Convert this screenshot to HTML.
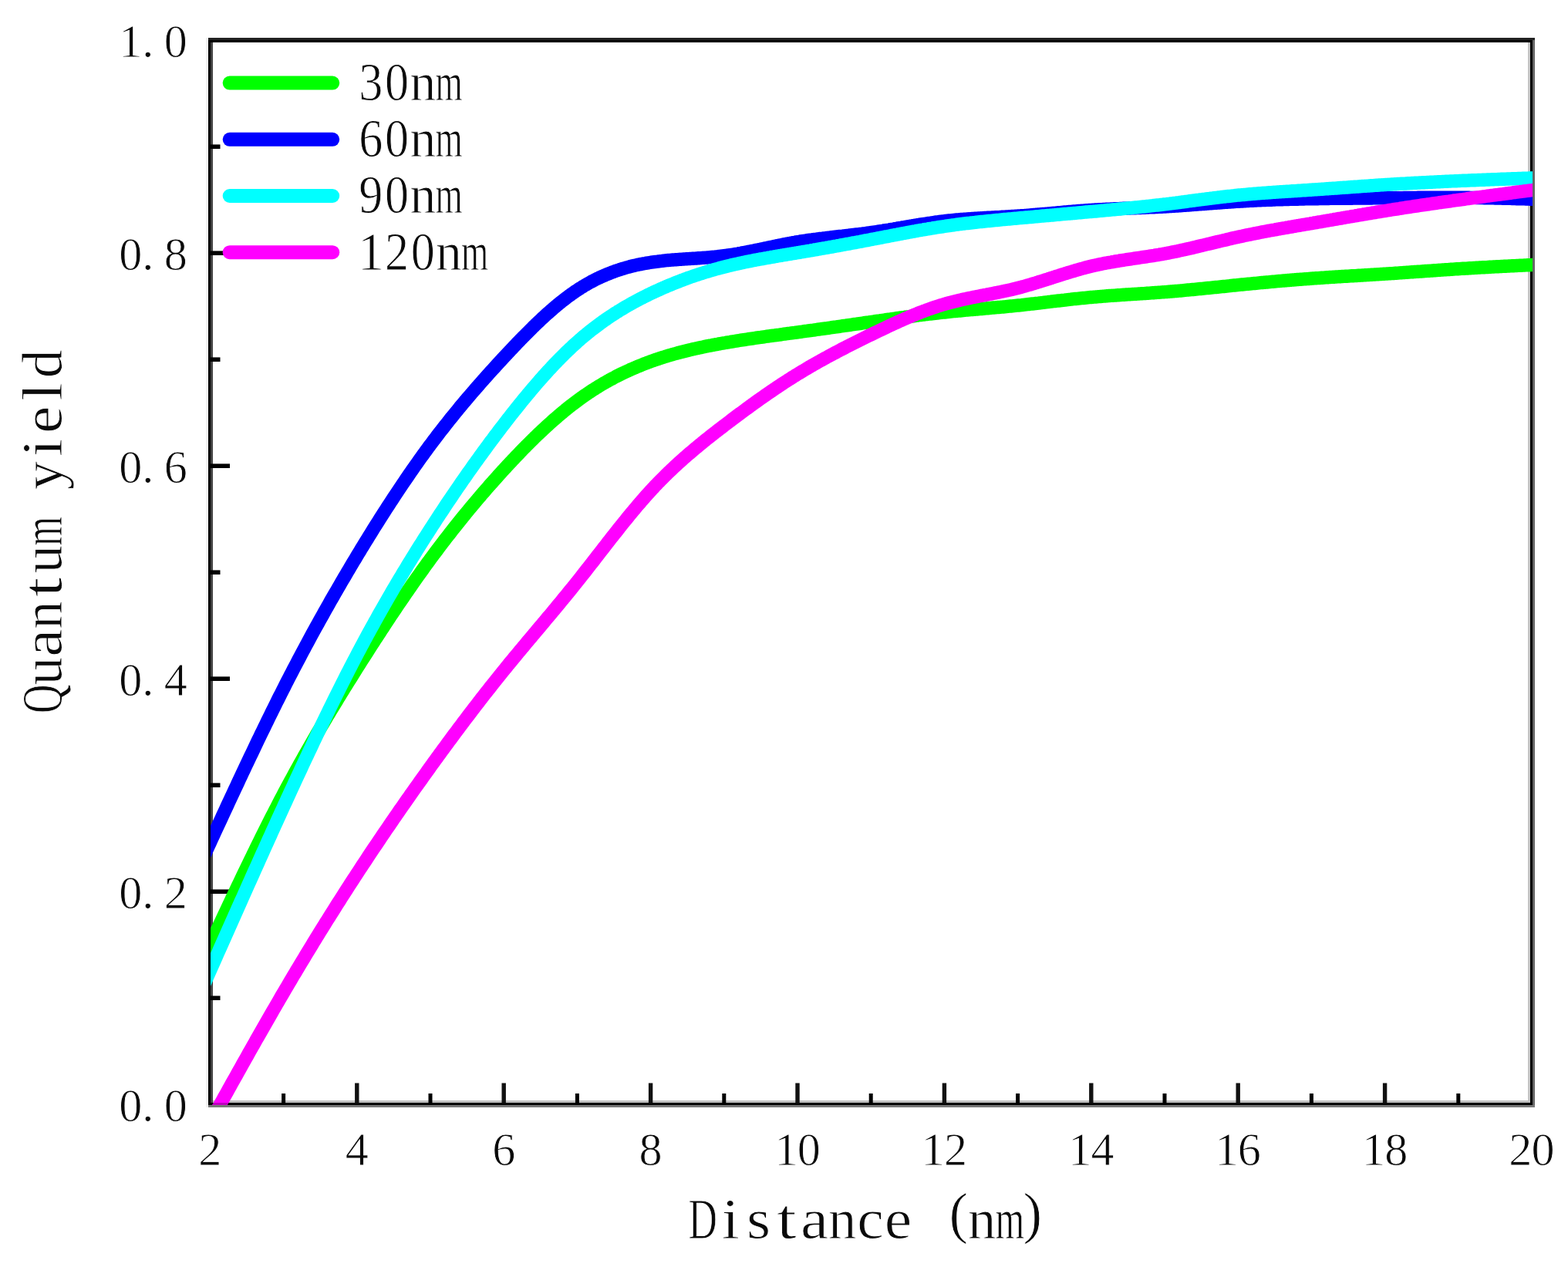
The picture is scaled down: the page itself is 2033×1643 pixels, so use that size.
<!DOCTYPE html>
<html lang="en"><head><meta charset="utf-8"><title>Quantum yield vs Distance</title>
<style>
html,body{margin:0;padding:0;background:#fff;}
body{width:2033px;height:1643px;overflow:hidden;}
svg{display:block;}
text{font-family:"Liberation Serif",serif;fill:#0a0a0a;text-anchor:middle;stroke:#fff;stroke-width:0.9px;}
.soft{filter:blur(0.7px);}
.softc{filter:blur(0.6px);}
.tk{font-size:62px;}
.lg{font-size:69px;}
.ti{font-size:74px;}
</style></head><body>
<svg width="2033" height="1643" viewBox="0 0 2033 1643">
<rect x="0" y="0" width="2033" height="1643" fill="#fff"/>
<defs><clipPath id="plot"><rect x="273" y="49" width="1714" height="1384"/></clipPath></defs>
<g shape-rendering="crispEdges">
<rect x="267" y="49" width="3" height="1387" fill="#f1f1f1"/>
<rect x="270" y="49" width="3" height="1387" fill="#000"/>
<rect x="273" y="52" width="3" height="1381" fill="#444"/>
<rect x="1981" y="55" width="3" height="1375" fill="#c4c4c4"/>
<rect x="1984" y="49" width="3" height="1384" fill="#000"/>
<rect x="1987" y="49" width="3" height="1387" fill="#666"/>
<rect x="270" y="49" width="1720" height="3" fill="#222"/>
<rect x="270" y="52" width="1717" height="3" fill="#000"/>
<rect x="276" y="1427" width="1708" height="3" fill="#c0c0c0"/>
<rect x="270" y="1430" width="1717" height="3" fill="#000"/>
<rect x="270" y="1433" width="1720" height="3" fill="#777"/>
</g>
<g fill="#000">
<rect x="365.1" y="1418" width="5" height="14"/>
<rect x="460.1" y="1404.5" width="5.4" height="27" fill="#111"/>
<rect x="555.5" y="1418" width="5" height="14"/>
<rect x="650.5" y="1404.5" width="5.4" height="27" fill="#111"/>
<rect x="745.9" y="1418" width="5" height="14"/>
<rect x="840.9" y="1404.5" width="5.4" height="27" fill="#111"/>
<rect x="936.3" y="1418" width="5" height="14"/>
<rect x="1031.3" y="1404.5" width="5.4" height="27" fill="#111"/>
<rect x="1126.7" y="1418" width="5" height="14"/>
<rect x="1221.7" y="1404.5" width="5.4" height="27" fill="#111"/>
<rect x="1317.1" y="1418" width="5" height="14"/>
<rect x="1412.1" y="1404.5" width="5.4" height="27" fill="#111"/>
<rect x="1507.5" y="1418" width="5" height="14"/>
<rect x="1602.5" y="1404.5" width="5.4" height="27" fill="#111"/>
<rect x="1697.9" y="1418" width="5" height="14"/>
<rect x="1792.9" y="1404.5" width="5.4" height="27" fill="#111"/>
<rect x="1888.3" y="1418" width="5" height="14"/>
<rect x="272" y="1291.4" width="13.5" height="5.6"/>
<rect x="272" y="1153.4" width="26" height="5.6"/>
<rect x="272" y="1015.4" width="13.5" height="5.6"/>
<rect x="272" y="877.4" width="26" height="5.6"/>
<rect x="272" y="739.4" width="13.5" height="5.6"/>
<rect x="272" y="601.4" width="26" height="5.6"/>
<rect x="272" y="463.4" width="13.5" height="5.6"/>
<rect x="272" y="325.4" width="26" height="5.6"/>
<rect x="272" y="187.4" width="13.5" height="5.6"/>
</g>
<g clip-path="url(#plot)"><g class="softc" fill="none" stroke-linejoin="round" stroke-linecap="butt">
<path d="M260.5 1250.6 L262.5 1246.3 L264.5 1242.1 L266.5 1237.8 L268.5 1233.5 L270.5 1229.3 L272.5 1225.0 L274.5 1220.7 L276.5 1216.5 L278.5 1212.2 L280.5 1207.9 L282.5 1203.7 L284.5 1199.4 L286.5 1195.2 L288.5 1190.9 L290.5 1186.6 L292.5 1182.4 L294.5 1178.2 L296.5 1173.9 L298.5 1169.7 L300.5 1165.4 L302.5 1161.2 L304.5 1157.0 L306.5 1152.8 L308.5 1148.6 L310.5 1144.4 L312.5 1140.2 L314.5 1136.0 L316.5 1131.9 L318.5 1127.7 L320.5 1123.6 L322.5 1119.4 L324.5 1115.3 L326.5 1111.2 L328.5 1107.1 L330.5 1103.0 L332.5 1098.9 L334.5 1094.8 L336.5 1090.7 L338.5 1086.7 L340.5 1082.7 L342.5 1078.7 L344.5 1074.7 L346.5 1070.7 L348.5 1066.7 L350.5 1062.7 L352.5 1058.8 L354.5 1054.9 L356.5 1051.0 L358.5 1047.1 L360.5 1043.2 L362.5 1039.4 L364.5 1035.5 L366.5 1031.7 L368.5 1027.9 L370.5 1024.2 L372.5 1020.4 L374.5 1016.7 L376.5 1013.0 L378.5 1009.3 L380.5 1005.6 L382.5 1001.9 L384.5 998.3 L386.5 994.7 L388.5 991.1 L390.5 987.5 L392.5 983.9 L394.5 980.3 L396.5 976.8 L398.5 973.3 L400.5 969.8 L402.5 966.3 L404.5 962.8 L406.5 959.3 L408.5 955.9 L410.5 952.4 L412.5 949.0 L414.5 945.6 L416.5 942.2 L418.5 938.8 L420.5 935.5 L422.5 932.1 L424.5 928.7 L426.5 925.4 L428.5 922.1 L430.5 918.8 L432.5 915.5 L434.5 912.2 L436.5 908.9 L438.5 905.6 L440.5 902.4 L442.5 899.1 L444.5 895.9 L446.5 892.6 L448.5 889.4 L450.5 886.2 L452.5 883.0 L454.5 879.8 L456.5 876.6 L458.5 873.4 L460.5 870.2 L462.5 867.0 L464.5 863.9 L466.5 860.7 L468.5 857.5 L470.5 854.4 L472.5 851.3 L474.5 848.1 L476.5 845.0 L478.5 841.9 L480.5 838.7 L482.5 835.6 L484.5 832.5 L486.5 829.4 L488.5 826.4 L490.5 823.3 L492.5 820.2 L494.5 817.1 L496.5 814.1 L498.5 811.0 L500.5 808.0 L502.5 805.0 L504.5 802.0 L506.5 798.9 L508.5 795.9 L510.5 792.9 L512.5 790.0 L514.5 787.0 L516.5 784.0 L518.5 781.1 L520.5 778.1 L522.5 775.2 L524.5 772.3 L526.5 769.4 L528.5 766.5 L530.5 763.6 L532.5 760.7 L534.5 757.8 L536.5 755.0 L538.5 752.1 L540.5 749.3 L542.5 746.5 L544.5 743.7 L546.5 740.9 L548.5 738.1 L550.5 735.3 L552.5 732.5 L554.5 729.8 L556.5 727.1 L558.5 724.3 L560.5 721.6 L562.5 718.9 L564.5 716.2 L566.5 713.6 L568.5 710.9 L570.5 708.3 L572.5 705.6 L574.5 703.0 L576.5 700.4 L578.5 697.8 L580.5 695.2 L582.5 692.7 L584.5 690.1 L586.5 687.5 L588.5 685.0 L590.5 682.5 L592.5 680.0 L594.5 677.5 L596.5 675.0 L598.5 672.5 L600.5 670.0 L602.5 667.6 L604.5 665.1 L606.5 662.7 L608.5 660.3 L610.5 657.9 L612.5 655.5 L614.5 653.1 L616.5 650.7 L618.5 648.4 L620.5 646.0 L622.5 643.7 L624.5 641.3 L626.5 639.0 L628.5 636.7 L630.5 634.4 L632.5 632.1 L634.5 629.8 L636.5 627.5 L638.5 625.3 L640.5 623.0 L642.5 620.8 L644.5 618.6 L646.5 616.3 L648.5 614.1 L650.5 611.9 L652.5 609.7 L654.5 607.6 L656.5 605.4 L658.5 603.2 L660.5 601.1 L662.5 598.9 L664.5 596.8 L666.5 594.7 L668.5 592.6 L670.5 590.5 L672.5 588.4 L674.5 586.3 L676.5 584.2 L678.5 582.2 L680.5 580.2 L682.5 578.1 L684.5 576.1 L686.5 574.1 L688.5 572.1 L690.5 570.1 L692.5 568.2 L694.5 566.2 L696.5 564.3 L698.5 562.4 L700.5 560.5 L702.5 558.6 L704.5 556.7 L706.5 554.9 L708.5 553.0 L710.5 551.2 L712.5 549.4 L714.5 547.6 L716.5 545.8 L718.5 544.0 L720.5 542.3 L722.5 540.6 L724.5 538.8 L726.5 537.1 L728.5 535.5 L730.5 533.8 L732.5 532.2 L734.5 530.5 L736.5 528.9 L738.5 527.3 L740.5 525.8 L742.5 524.2 L744.5 522.7 L746.5 521.2 L748.5 519.7 L750.5 518.2 L752.5 516.8 L754.5 515.3 L756.5 513.9 L758.5 512.5 L760.5 511.2 L762.5 509.8 L764.5 508.5 L766.5 507.1 L768.5 505.8 L770.5 504.6 L772.5 503.3 L774.5 502.1 L776.5 500.8 L778.5 499.6 L780.5 498.4 L782.5 497.2 L784.5 496.1 L786.5 495.0 L788.5 493.8 L790.5 492.7 L792.5 491.6 L794.5 490.6 L796.5 489.5 L798.5 488.4 L800.5 487.4 L802.5 486.4 L804.5 485.4 L806.5 484.4 L808.5 483.5 L810.5 482.5 L812.5 481.6 L814.5 480.7 L816.5 479.7 L818.5 478.8 L820.5 478.0 L822.5 477.1 L824.5 476.3 L826.5 475.4 L828.5 474.6 L830.5 473.8 L832.5 473.0 L834.5 472.2 L836.5 471.4 L838.5 470.7 L840.5 469.9 L842.5 469.2 L844.5 468.4 L846.5 467.7 L848.5 467.0 L850.5 466.3 L852.5 465.7 L854.5 465.0 L856.5 464.3 L858.5 463.7 L860.5 463.1 L862.5 462.4 L864.5 461.8 L866.5 461.2 L868.5 460.6 L870.5 460.0 L872.5 459.5 L874.5 458.9 L876.5 458.4 L878.5 457.8 L880.5 457.3 L882.5 456.7 L884.5 456.2 L886.5 455.7 L888.5 455.2 L890.5 454.7 L892.5 454.2 L894.5 453.7 L896.5 453.3 L898.5 452.8 L900.5 452.4 L902.5 451.9 L904.5 451.5 L906.5 451.0 L908.5 450.6 L910.5 450.2 L912.5 449.8 L914.5 449.3 L916.5 448.9 L918.5 448.5 L920.5 448.1 L922.5 447.8 L924.5 447.4 L926.5 447.0 L928.5 446.6 L930.5 446.3 L932.5 445.9 L934.5 445.5 L936.5 445.2 L938.5 444.8 L940.5 444.5 L942.5 444.1 L944.5 443.8 L946.5 443.5 L948.5 443.1 L950.5 442.8 L952.5 442.5 L954.5 442.2 L956.5 441.8 L958.5 441.5 L960.5 441.2 L962.5 440.9 L964.5 440.6 L966.5 440.3 L968.5 440.0 L970.5 439.7 L972.5 439.4 L974.5 439.1 L976.5 438.8 L978.5 438.5 L980.5 438.2 L982.5 437.9 L984.5 437.6 L986.5 437.4 L988.5 437.1 L990.5 436.8 L992.5 436.5 L994.5 436.2 L996.5 436.0 L998.5 435.7 L1000.5 435.4 L1002.5 435.1 L1004.5 434.9 L1006.5 434.6 L1008.5 434.3 L1010.5 434.1 L1012.5 433.8 L1014.5 433.5 L1016.5 433.2 L1018.5 433.0 L1020.5 432.7 L1022.5 432.4 L1024.5 432.2 L1026.5 431.9 L1028.5 431.6 L1030.5 431.4 L1032.5 431.1 L1034.5 430.8 L1036.5 430.5 L1038.5 430.3 L1040.5 430.0 L1042.5 429.7 L1044.5 429.4 L1046.5 429.2 L1048.5 428.9 L1050.5 428.6 L1052.5 428.3 L1054.5 428.1 L1056.5 427.8 L1058.5 427.5 L1060.5 427.2 L1062.5 427.0 L1064.5 426.7 L1066.5 426.4 L1068.5 426.1 L1070.5 425.8 L1072.5 425.6 L1074.5 425.3 L1076.5 425.0 L1078.5 424.7 L1080.5 424.4 L1082.5 424.1 L1084.5 423.9 L1086.5 423.6 L1088.5 423.3 L1090.5 423.0 L1092.5 422.7 L1094.5 422.4 L1096.5 422.2 L1098.5 421.9 L1100.5 421.6 L1102.5 421.3 L1104.5 421.0 L1106.5 420.7 L1108.5 420.4 L1110.5 420.2 L1112.5 419.9 L1114.5 419.6 L1116.5 419.3 L1118.5 419.0 L1120.5 418.7 L1122.5 418.4 L1124.5 418.1 L1126.5 417.9 L1128.5 417.6 L1130.5 417.3 L1132.5 417.0 L1134.5 416.7 L1136.5 416.4 L1138.5 416.1 L1140.5 415.9 L1142.5 415.6 L1144.5 415.3 L1146.5 415.0 L1148.5 414.7 L1150.5 414.4 L1152.5 414.1 L1154.5 413.9 L1156.5 413.6 L1158.5 413.3 L1160.5 413.0 L1162.5 412.7 L1164.5 412.5 L1166.5 412.2 L1168.5 411.9 L1170.5 411.6 L1172.5 411.4 L1174.5 411.1 L1176.5 410.8 L1178.5 410.6 L1180.5 410.3 L1182.5 410.0 L1184.5 409.8 L1186.5 409.5 L1188.5 409.2 L1190.5 409.0 L1192.5 408.7 L1194.5 408.5 L1196.5 408.2 L1198.5 408.0 L1200.5 407.7 L1202.5 407.5 L1204.5 407.2 L1206.5 407.0 L1208.5 406.8 L1210.5 406.5 L1212.5 406.3 L1214.5 406.1 L1216.5 405.8 L1218.5 405.6 L1220.5 405.4 L1222.5 405.2 L1224.5 405.0 L1226.5 404.8 L1228.5 404.5 L1230.5 404.3 L1232.5 404.1 L1234.5 403.9 L1236.5 403.7 L1238.5 403.5 L1240.5 403.4 L1242.5 403.2 L1244.5 403.0 L1246.5 402.8 L1248.5 402.6 L1250.5 402.4 L1252.5 402.2 L1254.5 402.0 L1256.5 401.9 L1258.5 401.7 L1260.5 401.5 L1262.5 401.3 L1264.5 401.2 L1266.5 401.0 L1268.5 400.8 L1270.5 400.6 L1272.5 400.5 L1274.5 400.3 L1276.5 400.1 L1278.5 399.9 L1280.5 399.8 L1282.5 399.6 L1284.5 399.4 L1286.5 399.2 L1288.5 399.0 L1290.5 398.9 L1292.5 398.7 L1294.5 398.5 L1296.5 398.3 L1298.5 398.1 L1300.5 398.0 L1302.5 397.8 L1304.5 397.6 L1306.5 397.4 L1308.5 397.2 L1310.5 397.0 L1312.5 396.8 L1314.5 396.6 L1316.5 396.4 L1318.5 396.2 L1320.5 396.0 L1322.5 395.8 L1324.5 395.6 L1326.5 395.3 L1328.5 395.1 L1330.5 394.9 L1332.5 394.7 L1334.5 394.5 L1336.5 394.2 L1338.5 394.0 L1340.5 393.8 L1342.5 393.5 L1344.5 393.3 L1346.5 393.1 L1348.5 392.8 L1350.5 392.6 L1352.5 392.4 L1354.5 392.1 L1356.5 391.9 L1358.5 391.7 L1360.5 391.4 L1362.5 391.2 L1364.5 390.9 L1366.5 390.7 L1368.5 390.5 L1370.5 390.2 L1372.5 390.0 L1374.5 389.8 L1376.5 389.5 L1378.5 389.3 L1380.5 389.1 L1382.5 388.8 L1384.5 388.6 L1386.5 388.4 L1388.5 388.2 L1390.5 387.9 L1392.5 387.7 L1394.5 387.5 L1396.5 387.3 L1398.5 387.1 L1400.5 386.9 L1402.5 386.7 L1404.5 386.5 L1406.5 386.3 L1408.5 386.1 L1410.5 385.9 L1412.5 385.7 L1414.5 385.5 L1416.5 385.3 L1418.5 385.1 L1420.5 385.0 L1422.5 384.8 L1424.5 384.6 L1426.5 384.5 L1428.5 384.3 L1430.5 384.1 L1432.5 384.0 L1434.5 383.8 L1436.5 383.7 L1438.5 383.5 L1440.5 383.4 L1442.5 383.3 L1444.5 383.1 L1446.5 383.0 L1448.5 382.8 L1450.5 382.7 L1452.5 382.6 L1454.5 382.4 L1456.5 382.3 L1458.5 382.2 L1460.5 382.0 L1462.5 381.9 L1464.5 381.8 L1466.5 381.6 L1468.5 381.5 L1470.5 381.4 L1472.5 381.3 L1474.5 381.1 L1476.5 381.0 L1478.5 380.9 L1480.5 380.7 L1482.5 380.6 L1484.5 380.5 L1486.5 380.3 L1488.5 380.2 L1490.5 380.1 L1492.5 379.9 L1494.5 379.8 L1496.5 379.7 L1498.5 379.5 L1500.5 379.4 L1502.5 379.2 L1504.5 379.1 L1506.5 378.9 L1508.5 378.8 L1510.5 378.6 L1512.5 378.5 L1514.5 378.3 L1516.5 378.2 L1518.5 378.0 L1520.5 377.8 L1522.5 377.7 L1524.5 377.5 L1526.5 377.3 L1528.5 377.1 L1530.5 377.0 L1532.5 376.8 L1534.5 376.6 L1536.5 376.4 L1538.5 376.2 L1540.5 376.0 L1542.5 375.9 L1544.5 375.7 L1546.5 375.5 L1548.5 375.3 L1550.5 375.1 L1552.5 374.9 L1554.5 374.7 L1556.5 374.5 L1558.5 374.3 L1560.5 374.1 L1562.5 373.9 L1564.5 373.7 L1566.5 373.5 L1568.5 373.3 L1570.5 373.1 L1572.5 372.9 L1574.5 372.7 L1576.5 372.5 L1578.5 372.3 L1580.5 372.1 L1582.5 371.9 L1584.5 371.7 L1586.5 371.5 L1588.5 371.3 L1590.5 371.1 L1592.5 370.9 L1594.5 370.7 L1596.5 370.4 L1598.5 370.2 L1600.5 370.0 L1602.5 369.8 L1604.5 369.6 L1606.5 369.4 L1608.5 369.2 L1610.5 369.0 L1612.5 368.8 L1614.5 368.6 L1616.5 368.4 L1618.5 368.2 L1620.5 368.1 L1622.5 367.9 L1624.5 367.7 L1626.5 367.5 L1628.5 367.3 L1630.5 367.1 L1632.5 366.9 L1634.5 366.7 L1636.5 366.5 L1638.5 366.3 L1640.5 366.2 L1642.5 366.0 L1644.5 365.8 L1646.5 365.6 L1648.5 365.4 L1650.5 365.2 L1652.5 365.1 L1654.5 364.9 L1656.5 364.7 L1658.5 364.5 L1660.5 364.4 L1662.5 364.2 L1664.5 364.0 L1666.5 363.8 L1668.5 363.7 L1670.5 363.5 L1672.5 363.3 L1674.5 363.2 L1676.5 363.0 L1678.5 362.8 L1680.5 362.7 L1682.5 362.5 L1684.5 362.4 L1686.5 362.2 L1688.5 362.1 L1690.5 361.9 L1692.5 361.8 L1694.5 361.6 L1696.5 361.5 L1698.5 361.3 L1700.5 361.2 L1702.5 361.0 L1704.5 360.9 L1706.5 360.7 L1708.5 360.6 L1710.5 360.5 L1712.5 360.3 L1714.5 360.2 L1716.5 360.1 L1718.5 359.9 L1720.5 359.8 L1722.5 359.7 L1724.5 359.5 L1726.5 359.4 L1728.5 359.3 L1730.5 359.2 L1732.5 359.0 L1734.5 358.9 L1736.5 358.8 L1738.5 358.7 L1740.5 358.5 L1742.5 358.4 L1744.5 358.3 L1746.5 358.2 L1748.5 358.1 L1750.5 357.9 L1752.5 357.8 L1754.5 357.7 L1756.5 357.6 L1758.5 357.5 L1760.5 357.3 L1762.5 357.2 L1764.5 357.1 L1766.5 357.0 L1768.5 356.9 L1770.5 356.7 L1772.5 356.6 L1774.5 356.5 L1776.5 356.4 L1778.5 356.2 L1780.5 356.1 L1782.5 356.0 L1784.5 355.9 L1786.5 355.8 L1788.5 355.6 L1790.5 355.5 L1792.5 355.4 L1794.5 355.2 L1796.5 355.1 L1798.5 355.0 L1800.5 354.9 L1802.5 354.7 L1804.5 354.6 L1806.5 354.5 L1808.5 354.3 L1810.5 354.2 L1812.5 354.1 L1814.5 353.9 L1816.5 353.8 L1818.5 353.6 L1820.5 353.5 L1822.5 353.4 L1824.5 353.2 L1826.5 353.1 L1828.5 352.9 L1830.5 352.8 L1832.5 352.7 L1834.5 352.5 L1836.5 352.4 L1838.5 352.2 L1840.5 352.1 L1842.5 352.0 L1844.5 351.8 L1846.5 351.7 L1848.5 351.5 L1850.5 351.4 L1852.5 351.3 L1854.5 351.1 L1856.5 351.0 L1858.5 350.8 L1860.5 350.7 L1862.5 350.6 L1864.5 350.4 L1866.5 350.3 L1868.5 350.1 L1870.5 350.0 L1872.5 349.9 L1874.5 349.7 L1876.5 349.6 L1878.5 349.5 L1880.5 349.3 L1882.5 349.2 L1884.5 349.1 L1886.5 348.9 L1888.5 348.8 L1890.5 348.7 L1892.5 348.6 L1894.5 348.4 L1896.5 348.3 L1898.5 348.2 L1900.5 348.1 L1902.5 348.0 L1904.5 347.8 L1906.5 347.7 L1908.5 347.6 L1910.5 347.5 L1912.5 347.4 L1914.5 347.2 L1916.5 347.1 L1918.5 347.0 L1920.5 346.9 L1922.5 346.8 L1924.5 346.7 L1926.5 346.6 L1928.5 346.5 L1930.5 346.3 L1932.5 346.2 L1934.5 346.1 L1936.5 346.0 L1938.5 345.9 L1940.5 345.8 L1942.5 345.7 L1944.5 345.6 L1946.5 345.5 L1948.5 345.4 L1950.5 345.3 L1952.5 345.2 L1954.5 345.1 L1956.5 345.0 L1958.5 344.9 L1960.5 344.8 L1962.5 344.7 L1964.5 344.6 L1966.5 344.5 L1968.5 344.4 L1970.5 344.3 L1972.5 344.2 L1974.5 344.1 L1976.5 344.0 L1978.5 343.9 L1980.5 343.8 L1982.5 343.7 L1984.5 343.6 L1986.5 343.5 L1988.5 343.4 L1990.5 343.3 L1992.5 343.2 L1994.5 343.1 L1996.5 343.0" stroke="#00ff00" stroke-width="17.4"/>
<path d="M260.5 1118.4 L262.5 1114.1 L264.5 1109.8 L266.5 1105.5 L268.5 1101.1 L270.5 1096.8 L272.5 1092.5 L274.5 1088.2 L276.5 1083.9 L278.5 1079.5 L280.5 1075.2 L282.5 1070.9 L284.5 1066.6 L286.5 1062.3 L288.5 1057.9 L290.5 1053.6 L292.5 1049.3 L294.5 1045.0 L296.5 1040.7 L298.5 1036.4 L300.5 1032.1 L302.5 1027.8 L304.5 1023.6 L306.5 1019.3 L308.5 1015.0 L310.5 1010.7 L312.5 1006.5 L314.5 1002.2 L316.5 998.0 L318.5 993.7 L320.5 989.5 L322.5 985.3 L324.5 981.1 L326.5 976.9 L328.5 972.7 L330.5 968.5 L332.5 964.3 L334.5 960.1 L336.5 956.0 L338.5 951.8 L340.5 947.7 L342.5 943.6 L344.5 939.5 L346.5 935.4 L348.5 931.3 L350.5 927.2 L352.5 923.1 L354.5 919.1 L356.5 915.1 L358.5 911.0 L360.5 907.0 L362.5 903.0 L364.5 899.1 L366.5 895.1 L368.5 891.2 L370.5 887.2 L372.5 883.3 L374.5 879.4 L376.5 875.5 L378.5 871.7 L380.5 867.8 L382.5 864.0 L384.5 860.2 L386.5 856.4 L388.5 852.6 L390.5 848.8 L392.5 845.0 L394.5 841.3 L396.5 837.5 L398.5 833.8 L400.5 830.1 L402.5 826.4 L404.5 822.7 L406.5 819.1 L408.5 815.4 L410.5 811.8 L412.5 808.2 L414.5 804.6 L416.5 801.0 L418.5 797.4 L420.5 793.8 L422.5 790.3 L424.5 786.7 L426.5 783.2 L428.5 779.6 L430.5 776.1 L432.5 772.6 L434.5 769.2 L436.5 765.7 L438.5 762.2 L440.5 758.8 L442.5 755.3 L444.5 751.9 L446.5 748.5 L448.5 745.1 L450.5 741.7 L452.5 738.3 L454.5 734.9 L456.5 731.6 L458.5 728.2 L460.5 724.9 L462.5 721.6 L464.5 718.2 L466.5 714.9 L468.5 711.6 L470.5 708.4 L472.5 705.1 L474.5 701.8 L476.5 698.6 L478.5 695.3 L480.5 692.1 L482.5 688.9 L484.5 685.6 L486.5 682.4 L488.5 679.3 L490.5 676.1 L492.5 672.9 L494.5 669.8 L496.5 666.6 L498.5 663.5 L500.5 660.4 L502.5 657.3 L504.5 654.2 L506.5 651.1 L508.5 648.1 L510.5 645.0 L512.5 642.0 L514.5 639.0 L516.5 636.0 L518.5 633.0 L520.5 630.0 L522.5 627.0 L524.5 624.1 L526.5 621.1 L528.5 618.2 L530.5 615.3 L532.5 612.4 L534.5 609.5 L536.5 606.6 L538.5 603.8 L540.5 601.0 L542.5 598.1 L544.5 595.3 L546.5 592.5 L548.5 589.8 L550.5 587.0 L552.5 584.3 L554.5 581.5 L556.5 578.8 L558.5 576.1 L560.5 573.5 L562.5 570.8 L564.5 568.2 L566.5 565.5 L568.5 562.9 L570.5 560.3 L572.5 557.7 L574.5 555.2 L576.5 552.6 L578.5 550.1 L580.5 547.6 L582.5 545.0 L584.5 542.5 L586.5 540.1 L588.5 537.6 L590.5 535.1 L592.5 532.7 L594.5 530.3 L596.5 527.8 L598.5 525.4 L600.5 523.0 L602.5 520.6 L604.5 518.3 L606.5 515.9 L608.5 513.6 L610.5 511.2 L612.5 508.9 L614.5 506.6 L616.5 504.3 L618.5 502.0 L620.5 499.7 L622.5 497.4 L624.5 495.1 L626.5 492.9 L628.5 490.6 L630.5 488.4 L632.5 486.2 L634.5 483.9 L636.5 481.7 L638.5 479.5 L640.5 477.3 L642.5 475.1 L644.5 472.9 L646.5 470.7 L648.5 468.6 L650.5 466.4 L652.5 464.2 L654.5 462.1 L656.5 459.9 L658.5 457.8 L660.5 455.7 L662.5 453.5 L664.5 451.4 L666.5 449.3 L668.5 447.2 L670.5 445.1 L672.5 443.0 L674.5 440.9 L676.5 438.9 L678.5 436.8 L680.5 434.8 L682.5 432.8 L684.5 430.8 L686.5 428.8 L688.5 426.8 L690.5 424.8 L692.5 422.9 L694.5 420.9 L696.5 419.0 L698.5 417.1 L700.5 415.2 L702.5 413.3 L704.5 411.5 L706.5 409.6 L708.5 407.8 L710.5 406.0 L712.5 404.3 L714.5 402.5 L716.5 400.8 L718.5 399.0 L720.5 397.4 L722.5 395.7 L724.5 394.0 L726.5 392.4 L728.5 390.8 L730.5 389.2 L732.5 387.7 L734.5 386.1 L736.5 384.6 L738.5 383.2 L740.5 381.7 L742.5 380.3 L744.5 378.9 L746.5 377.5 L748.5 376.2 L750.5 374.9 L752.5 373.6 L754.5 372.4 L756.5 371.1 L758.5 369.9 L760.5 368.8 L762.5 367.6 L764.5 366.5 L766.5 365.4 L768.5 364.4 L770.5 363.3 L772.5 362.3 L774.5 361.3 L776.5 360.4 L778.5 359.4 L780.5 358.5 L782.5 357.6 L784.5 356.8 L786.5 355.9 L788.5 355.1 L790.5 354.3 L792.5 353.5 L794.5 352.8 L796.5 352.0 L798.5 351.3 L800.5 350.6 L802.5 350.0 L804.5 349.3 L806.5 348.7 L808.5 348.1 L810.5 347.5 L812.5 346.9 L814.5 346.4 L816.5 345.8 L818.5 345.3 L820.5 344.8 L822.5 344.4 L824.5 343.9 L826.5 343.4 L828.5 343.0 L830.5 342.6 L832.5 342.2 L834.5 341.8 L836.5 341.5 L838.5 341.1 L840.5 340.8 L842.5 340.5 L844.5 340.2 L846.5 339.9 L848.5 339.6 L850.5 339.3 L852.5 339.1 L854.5 338.8 L856.5 338.6 L858.5 338.4 L860.5 338.1 L862.5 337.9 L864.5 337.7 L866.5 337.5 L868.5 337.4 L870.5 337.2 L872.5 337.0 L874.5 336.9 L876.5 336.7 L878.5 336.6 L880.5 336.4 L882.5 336.3 L884.5 336.1 L886.5 336.0 L888.5 335.9 L890.5 335.7 L892.5 335.6 L894.5 335.5 L896.5 335.4 L898.5 335.2 L900.5 335.1 L902.5 335.0 L904.5 334.8 L906.5 334.7 L908.5 334.6 L910.5 334.4 L912.5 334.3 L914.5 334.1 L916.5 334.0 L918.5 333.8 L920.5 333.6 L922.5 333.4 L924.5 333.3 L926.5 333.1 L928.5 332.9 L930.5 332.7 L932.5 332.4 L934.5 332.2 L936.5 332.0 L938.5 331.7 L940.5 331.5 L942.5 331.2 L944.5 330.9 L946.5 330.6 L948.5 330.3 L950.5 330.0 L952.5 329.7 L954.5 329.3 L956.5 329.0 L958.5 328.6 L960.5 328.3 L962.5 327.9 L964.5 327.5 L966.5 327.2 L968.5 326.8 L970.5 326.4 L972.5 326.0 L974.5 325.6 L976.5 325.2 L978.5 324.8 L980.5 324.4 L982.5 324.0 L984.5 323.6 L986.5 323.1 L988.5 322.7 L990.5 322.3 L992.5 321.9 L994.5 321.5 L996.5 321.0 L998.5 320.6 L1000.5 320.2 L1002.5 319.8 L1004.5 319.4 L1006.5 318.9 L1008.5 318.5 L1010.5 318.1 L1012.5 317.7 L1014.5 317.3 L1016.5 316.9 L1018.5 316.5 L1020.5 316.1 L1022.5 315.7 L1024.5 315.4 L1026.5 315.0 L1028.5 314.6 L1030.5 314.3 L1032.5 313.9 L1034.5 313.6 L1036.5 313.3 L1038.5 312.9 L1040.5 312.6 L1042.5 312.3 L1044.5 312.0 L1046.5 311.7 L1048.5 311.4 L1050.5 311.1 L1052.5 310.9 L1054.5 310.6 L1056.5 310.3 L1058.5 310.1 L1060.5 309.8 L1062.5 309.5 L1064.5 309.3 L1066.5 309.1 L1068.5 308.8 L1070.5 308.6 L1072.5 308.3 L1074.5 308.1 L1076.5 307.9 L1078.5 307.6 L1080.5 307.4 L1082.5 307.2 L1084.5 307.0 L1086.5 306.7 L1088.5 306.5 L1090.5 306.3 L1092.5 306.1 L1094.5 305.8 L1096.5 305.6 L1098.5 305.4 L1100.5 305.2 L1102.5 304.9 L1104.5 304.7 L1106.5 304.5 L1108.5 304.2 L1110.5 304.0 L1112.5 303.8 L1114.5 303.5 L1116.5 303.3 L1118.5 303.0 L1120.5 302.8 L1122.5 302.5 L1124.5 302.2 L1126.5 302.0 L1128.5 301.7 L1130.5 301.4 L1132.5 301.1 L1134.5 300.8 L1136.5 300.5 L1138.5 300.2 L1140.5 299.9 L1142.5 299.6 L1144.5 299.3 L1146.5 298.9 L1148.5 298.6 L1150.5 298.3 L1152.5 298.0 L1154.5 297.6 L1156.5 297.3 L1158.5 297.0 L1160.5 296.6 L1162.5 296.3 L1164.5 295.9 L1166.5 295.6 L1168.5 295.3 L1170.5 294.9 L1172.5 294.6 L1174.5 294.2 L1176.5 293.9 L1178.5 293.5 L1180.5 293.2 L1182.5 292.9 L1184.5 292.5 L1186.5 292.2 L1188.5 291.9 L1190.5 291.5 L1192.5 291.2 L1194.5 290.9 L1196.5 290.6 L1198.5 290.3 L1200.5 290.0 L1202.5 289.7 L1204.5 289.3 L1206.5 289.1 L1208.5 288.8 L1210.5 288.5 L1212.5 288.2 L1214.5 287.9 L1216.5 287.7 L1218.5 287.4 L1220.5 287.1 L1222.5 286.9 L1224.5 286.7 L1226.5 286.4 L1228.5 286.2 L1230.5 286.0 L1232.5 285.8 L1234.5 285.6 L1236.5 285.4 L1238.5 285.2 L1240.5 285.0 L1242.5 284.9 L1244.5 284.7 L1246.5 284.5 L1248.5 284.4 L1250.5 284.2 L1252.5 284.1 L1254.5 283.9 L1256.5 283.8 L1258.5 283.6 L1260.5 283.5 L1262.5 283.4 L1264.5 283.2 L1266.5 283.1 L1268.5 283.0 L1270.5 282.9 L1272.5 282.8 L1274.5 282.6 L1276.5 282.5 L1278.5 282.4 L1280.5 282.3 L1282.5 282.2 L1284.5 282.1 L1286.5 282.0 L1288.5 281.9 L1290.5 281.8 L1292.5 281.7 L1294.5 281.6 L1296.5 281.5 L1298.5 281.3 L1300.5 281.2 L1302.5 281.1 L1304.5 281.0 L1306.5 280.9 L1308.5 280.8 L1310.5 280.7 L1312.5 280.5 L1314.5 280.4 L1316.5 280.3 L1318.5 280.2 L1320.5 280.0 L1322.5 279.9 L1324.5 279.7 L1326.5 279.6 L1328.5 279.5 L1330.5 279.3 L1332.5 279.1 L1334.5 279.0 L1336.5 278.8 L1338.5 278.7 L1340.5 278.5 L1342.5 278.3 L1344.5 278.2 L1346.5 278.0 L1348.5 277.8 L1350.5 277.7 L1352.5 277.5 L1354.5 277.3 L1356.5 277.1 L1358.5 277.0 L1360.5 276.8 L1362.5 276.6 L1364.5 276.4 L1366.5 276.3 L1368.5 276.1 L1370.5 275.9 L1372.5 275.7 L1374.5 275.6 L1376.5 275.4 L1378.5 275.2 L1380.5 275.0 L1382.5 274.9 L1384.5 274.7 L1386.5 274.5 L1388.5 274.4 L1390.5 274.2 L1392.5 274.0 L1394.5 273.9 L1396.5 273.7 L1398.5 273.5 L1400.5 273.4 L1402.5 273.2 L1404.5 273.1 L1406.5 272.9 L1408.5 272.8 L1410.5 272.7 L1412.5 272.5 L1414.5 272.4 L1416.5 272.3 L1418.5 272.2 L1420.5 272.0 L1422.5 271.9 L1424.5 271.8 L1426.5 271.7 L1428.5 271.6 L1430.5 271.5 L1432.5 271.4 L1434.5 271.3 L1436.5 271.2 L1438.5 271.1 L1440.5 271.0 L1442.5 270.9 L1444.5 270.8 L1446.5 270.7 L1448.5 270.6 L1450.5 270.6 L1452.5 270.5 L1454.5 270.4 L1456.5 270.3 L1458.5 270.2 L1460.5 270.2 L1462.5 270.1 L1464.5 270.0 L1466.5 269.9 L1468.5 269.8 L1470.5 269.8 L1472.5 269.7 L1474.5 269.6 L1476.5 269.5 L1478.5 269.5 L1480.5 269.4 L1482.5 269.3 L1484.5 269.2 L1486.5 269.1 L1488.5 269.0 L1490.5 268.9 L1492.5 268.9 L1494.5 268.8 L1496.5 268.7 L1498.5 268.6 L1500.5 268.5 L1502.5 268.4 L1504.5 268.3 L1506.5 268.2 L1508.5 268.1 L1510.5 268.0 L1512.5 267.8 L1514.5 267.7 L1516.5 267.6 L1518.5 267.5 L1520.5 267.4 L1522.5 267.2 L1524.5 267.1 L1526.5 267.0 L1528.5 266.8 L1530.5 266.7 L1532.5 266.6 L1534.5 266.4 L1536.5 266.3 L1538.5 266.1 L1540.5 266.0 L1542.5 265.8 L1544.5 265.7 L1546.5 265.5 L1548.5 265.4 L1550.5 265.2 L1552.5 265.1 L1554.5 264.9 L1556.5 264.8 L1558.5 264.6 L1560.5 264.5 L1562.5 264.3 L1564.5 264.2 L1566.5 264.0 L1568.5 263.9 L1570.5 263.7 L1572.5 263.6 L1574.5 263.4 L1576.5 263.3 L1578.5 263.1 L1580.5 263.0 L1582.5 262.8 L1584.5 262.7 L1586.5 262.5 L1588.5 262.4 L1590.5 262.3 L1592.5 262.1 L1594.5 262.0 L1596.5 261.8 L1598.5 261.7 L1600.5 261.6 L1602.5 261.4 L1604.5 261.3 L1606.5 261.2 L1608.5 261.1 L1610.5 261.0 L1612.5 260.8 L1614.5 260.7 L1616.5 260.6 L1618.5 260.5 L1620.5 260.4 L1622.5 260.3 L1624.5 260.2 L1626.5 260.1 L1628.5 260.0 L1630.5 259.9 L1632.5 259.8 L1634.5 259.7 L1636.5 259.6 L1638.5 259.6 L1640.5 259.5 L1642.5 259.4 L1644.5 259.3 L1646.5 259.2 L1648.5 259.2 L1650.5 259.1 L1652.5 259.0 L1654.5 258.9 L1656.5 258.9 L1658.5 258.8 L1660.5 258.8 L1662.5 258.7 L1664.5 258.6 L1666.5 258.6 L1668.5 258.5 L1670.5 258.5 L1672.5 258.4 L1674.5 258.3 L1676.5 258.3 L1678.5 258.2 L1680.5 258.2 L1682.5 258.2 L1684.5 258.1 L1686.5 258.1 L1688.5 258.0 L1690.5 258.0 L1692.5 257.9 L1694.5 257.9 L1696.5 257.9 L1698.5 257.8 L1700.5 257.8 L1702.5 257.8 L1704.5 257.7 L1706.5 257.7 L1708.5 257.7 L1710.5 257.6 L1712.5 257.6 L1714.5 257.6 L1716.5 257.5 L1718.5 257.5 L1720.5 257.5 L1722.5 257.5 L1724.5 257.4 L1726.5 257.4 L1728.5 257.4 L1730.5 257.4 L1732.5 257.4 L1734.5 257.3 L1736.5 257.3 L1738.5 257.3 L1740.5 257.3 L1742.5 257.3 L1744.5 257.2 L1746.5 257.2 L1748.5 257.2 L1750.5 257.2 L1752.5 257.2 L1754.5 257.1 L1756.5 257.1 L1758.5 257.1 L1760.5 257.1 L1762.5 257.1 L1764.5 257.1 L1766.5 257.1 L1768.5 257.0 L1770.5 257.0 L1772.5 257.0 L1774.5 257.0 L1776.5 257.0 L1778.5 257.0 L1780.5 256.9 L1782.5 256.9 L1784.5 256.9 L1786.5 256.9 L1788.5 256.9 L1790.5 256.8 L1792.5 256.8 L1794.5 256.8 L1796.5 256.8 L1798.5 256.8 L1800.5 256.7 L1802.5 256.7 L1804.5 256.7 L1806.5 256.7 L1808.5 256.7 L1810.5 256.6 L1812.5 256.6 L1814.5 256.6 L1816.5 256.6 L1818.5 256.6 L1820.5 256.5 L1822.5 256.5 L1824.5 256.5 L1826.5 256.5 L1828.5 256.4 L1830.5 256.4 L1832.5 256.4 L1834.5 256.4 L1836.5 256.4 L1838.5 256.3 L1840.5 256.3 L1842.5 256.3 L1844.5 256.3 L1846.5 256.3 L1848.5 256.3 L1850.5 256.2 L1852.5 256.2 L1854.5 256.2 L1856.5 256.2 L1858.5 256.2 L1860.5 256.2 L1862.5 256.2 L1864.5 256.2 L1866.5 256.2 L1868.5 256.2 L1870.5 256.2 L1872.5 256.2 L1874.5 256.2 L1876.5 256.2 L1878.5 256.2 L1880.5 256.2 L1882.5 256.2 L1884.5 256.2 L1886.5 256.2 L1888.5 256.2 L1890.5 256.2 L1892.5 256.2 L1894.5 256.2 L1896.5 256.2 L1898.5 256.3 L1900.5 256.3 L1902.5 256.3 L1904.5 256.3 L1906.5 256.4 L1908.5 256.4 L1910.5 256.4 L1912.5 256.4 L1914.5 256.5 L1916.5 256.5 L1918.5 256.5 L1920.5 256.6 L1922.5 256.6 L1924.5 256.7 L1926.5 256.7 L1928.5 256.7 L1930.5 256.8 L1932.5 256.8 L1934.5 256.9 L1936.5 256.9 L1938.5 257.0 L1940.5 257.0 L1942.5 257.0 L1944.5 257.1 L1946.5 257.1 L1948.5 257.2 L1950.5 257.2 L1952.5 257.3 L1954.5 257.3 L1956.5 257.4 L1958.5 257.4 L1960.5 257.5 L1962.5 257.6 L1964.5 257.6 L1966.5 257.7 L1968.5 257.7 L1970.5 257.8 L1972.5 257.8 L1974.5 257.9 L1976.5 257.9 L1978.5 258.0 L1980.5 258.1 L1982.5 258.1 L1984.5 258.2 L1986.5 258.2 L1988.5 258.3 L1990.5 258.3 L1992.5 258.4 L1994.5 258.5 L1996.5 258.5" stroke="#0000ff" stroke-width="17.4"/>
<path d="M260.5 1285.6 L262.5 1281.1 L264.5 1276.5 L266.5 1272.0 L268.5 1267.5 L270.5 1263.0 L272.5 1258.5 L274.5 1254.0 L276.5 1249.5 L278.5 1245.0 L280.5 1240.5 L282.5 1235.9 L284.5 1231.4 L286.5 1226.9 L288.5 1222.4 L290.5 1217.9 L292.5 1213.4 L294.5 1208.9 L296.5 1204.4 L298.5 1199.9 L300.5 1195.4 L302.5 1190.9 L304.5 1186.4 L306.5 1181.9 L308.5 1177.4 L310.5 1172.9 L312.5 1168.4 L314.5 1164.0 L316.5 1159.5 L318.5 1155.0 L320.5 1150.5 L322.5 1146.0 L324.5 1141.6 L326.5 1137.1 L328.5 1132.6 L330.5 1128.2 L332.5 1123.7 L334.5 1119.3 L336.5 1114.8 L338.5 1110.4 L340.5 1105.9 L342.5 1101.5 L344.5 1097.0 L346.5 1092.6 L348.5 1088.2 L350.5 1083.8 L352.5 1079.3 L354.5 1074.9 L356.5 1070.5 L358.5 1066.1 L360.5 1061.7 L362.5 1057.3 L364.5 1052.9 L366.5 1048.6 L368.5 1044.2 L370.5 1039.8 L372.5 1035.4 L374.5 1031.1 L376.5 1026.7 L378.5 1022.4 L380.5 1018.1 L382.5 1013.7 L384.5 1009.4 L386.5 1005.1 L388.5 1000.8 L390.5 996.5 L392.5 992.2 L394.5 987.9 L396.5 983.6 L398.5 979.4 L400.5 975.1 L402.5 970.9 L404.5 966.7 L406.5 962.4 L408.5 958.2 L410.5 954.0 L412.5 949.8 L414.5 945.7 L416.5 941.5 L418.5 937.4 L420.5 933.2 L422.5 929.1 L424.5 925.0 L426.5 920.9 L428.5 916.8 L430.5 912.7 L432.5 908.7 L434.5 904.6 L436.5 900.6 L438.5 896.6 L440.5 892.6 L442.5 888.6 L444.5 884.6 L446.5 880.7 L448.5 876.7 L450.5 872.8 L452.5 868.9 L454.5 865.0 L456.5 861.1 L458.5 857.3 L460.5 853.5 L462.5 849.6 L464.5 845.8 L466.5 842.1 L468.5 838.3 L470.5 834.6 L472.5 830.8 L474.5 827.1 L476.5 823.4 L478.5 819.8 L480.5 816.1 L482.5 812.5 L484.5 808.9 L486.5 805.2 L488.5 801.7 L490.5 798.1 L492.5 794.5 L494.5 791.0 L496.5 787.5 L498.5 784.0 L500.5 780.5 L502.5 777.0 L504.5 773.5 L506.5 770.1 L508.5 766.6 L510.5 763.2 L512.5 759.8 L514.5 756.4 L516.5 753.1 L518.5 749.7 L520.5 746.4 L522.5 743.0 L524.5 739.7 L526.5 736.4 L528.5 733.1 L530.5 729.8 L532.5 726.6 L534.5 723.3 L536.5 720.1 L538.5 716.9 L540.5 713.6 L542.5 710.4 L544.5 707.2 L546.5 704.1 L548.5 700.9 L550.5 697.7 L552.5 694.6 L554.5 691.5 L556.5 688.3 L558.5 685.2 L560.5 682.1 L562.5 679.1 L564.5 676.0 L566.5 672.9 L568.5 669.9 L570.5 666.8 L572.5 663.8 L574.5 660.8 L576.5 657.7 L578.5 654.7 L580.5 651.7 L582.5 648.8 L584.5 645.8 L586.5 642.8 L588.5 639.9 L590.5 637.0 L592.5 634.0 L594.5 631.1 L596.5 628.2 L598.5 625.3 L600.5 622.4 L602.5 619.6 L604.5 616.7 L606.5 613.8 L608.5 611.0 L610.5 608.2 L612.5 605.4 L614.5 602.5 L616.5 599.7 L618.5 597.0 L620.5 594.2 L622.5 591.4 L624.5 588.7 L626.5 585.9 L628.5 583.2 L630.5 580.5 L632.5 577.7 L634.5 575.0 L636.5 572.3 L638.5 569.7 L640.5 567.0 L642.5 564.3 L644.5 561.7 L646.5 559.0 L648.5 556.4 L650.5 553.8 L652.5 551.2 L654.5 548.6 L656.5 546.0 L658.5 543.4 L660.5 540.9 L662.5 538.3 L664.5 535.8 L666.5 533.2 L668.5 530.7 L670.5 528.2 L672.5 525.7 L674.5 523.2 L676.5 520.8 L678.5 518.3 L680.5 515.9 L682.5 513.5 L684.5 511.0 L686.5 508.7 L688.5 506.3 L690.5 503.9 L692.5 501.6 L694.5 499.2 L696.5 496.9 L698.5 494.6 L700.5 492.3 L702.5 490.1 L704.5 487.8 L706.5 485.6 L708.5 483.4 L710.5 481.2 L712.5 479.0 L714.5 476.9 L716.5 474.7 L718.5 472.6 L720.5 470.5 L722.5 468.4 L724.5 466.4 L726.5 464.3 L728.5 462.3 L730.5 460.3 L732.5 458.3 L734.5 456.4 L736.5 454.5 L738.5 452.6 L740.5 450.7 L742.5 448.8 L744.5 447.0 L746.5 445.2 L748.5 443.4 L750.5 441.6 L752.5 439.9 L754.5 438.1 L756.5 436.4 L758.5 434.8 L760.5 433.1 L762.5 431.5 L764.5 429.9 L766.5 428.3 L768.5 426.7 L770.5 425.2 L772.5 423.7 L774.5 422.2 L776.5 420.7 L778.5 419.2 L780.5 417.8 L782.5 416.3 L784.5 414.9 L786.5 413.6 L788.5 412.2 L790.5 410.8 L792.5 409.5 L794.5 408.2 L796.5 406.9 L798.5 405.6 L800.5 404.4 L802.5 403.1 L804.5 401.9 L806.5 400.7 L808.5 399.5 L810.5 398.3 L812.5 397.1 L814.5 396.0 L816.5 394.9 L818.5 393.7 L820.5 392.6 L822.5 391.5 L824.5 390.5 L826.5 389.4 L828.5 388.3 L830.5 387.3 L832.5 386.3 L834.5 385.2 L836.5 384.2 L838.5 383.2 L840.5 382.3 L842.5 381.3 L844.5 380.3 L846.5 379.4 L848.5 378.4 L850.5 377.5 L852.5 376.6 L854.5 375.7 L856.5 374.8 L858.5 373.9 L860.5 373.0 L862.5 372.2 L864.5 371.3 L866.5 370.4 L868.5 369.6 L870.5 368.8 L872.5 368.0 L874.5 367.2 L876.5 366.4 L878.5 365.6 L880.5 364.8 L882.5 364.0 L884.5 363.3 L886.5 362.5 L888.5 361.8 L890.5 361.0 L892.5 360.3 L894.5 359.6 L896.5 358.9 L898.5 358.2 L900.5 357.5 L902.5 356.9 L904.5 356.2 L906.5 355.5 L908.5 354.9 L910.5 354.3 L912.5 353.6 L914.5 353.0 L916.5 352.4 L918.5 351.8 L920.5 351.2 L922.5 350.6 L924.5 350.0 L926.5 349.5 L928.5 348.9 L930.5 348.4 L932.5 347.8 L934.5 347.3 L936.5 346.8 L938.5 346.2 L940.5 345.7 L942.5 345.2 L944.5 344.7 L946.5 344.3 L948.5 343.8 L950.5 343.3 L952.5 342.9 L954.5 342.4 L956.5 342.0 L958.5 341.5 L960.5 341.1 L962.5 340.6 L964.5 340.2 L966.5 339.8 L968.5 339.4 L970.5 339.0 L972.5 338.6 L974.5 338.2 L976.5 337.8 L978.5 337.4 L980.5 337.0 L982.5 336.7 L984.5 336.3 L986.5 335.9 L988.5 335.6 L990.5 335.2 L992.5 334.8 L994.5 334.5 L996.5 334.1 L998.5 333.8 L1000.5 333.4 L1002.5 333.1 L1004.5 332.7 L1006.5 332.4 L1008.5 332.0 L1010.5 331.7 L1012.5 331.4 L1014.5 331.0 L1016.5 330.7 L1018.5 330.4 L1020.5 330.0 L1022.5 329.7 L1024.5 329.4 L1026.5 329.0 L1028.5 328.7 L1030.5 328.4 L1032.5 328.0 L1034.5 327.7 L1036.5 327.4 L1038.5 327.0 L1040.5 326.7 L1042.5 326.3 L1044.5 326.0 L1046.5 325.7 L1048.5 325.3 L1050.5 325.0 L1052.5 324.6 L1054.5 324.3 L1056.5 323.9 L1058.5 323.6 L1060.5 323.2 L1062.5 322.9 L1064.5 322.5 L1066.5 322.2 L1068.5 321.8 L1070.5 321.5 L1072.5 321.1 L1074.5 320.8 L1076.5 320.4 L1078.5 320.1 L1080.5 319.7 L1082.5 319.3 L1084.5 319.0 L1086.5 318.6 L1088.5 318.3 L1090.5 317.9 L1092.5 317.5 L1094.5 317.2 L1096.5 316.8 L1098.5 316.4 L1100.5 316.1 L1102.5 315.7 L1104.5 315.3 L1106.5 314.9 L1108.5 314.6 L1110.5 314.2 L1112.5 313.8 L1114.5 313.5 L1116.5 313.1 L1118.5 312.7 L1120.5 312.3 L1122.5 311.9 L1124.5 311.6 L1126.5 311.2 L1128.5 310.8 L1130.5 310.4 L1132.5 310.0 L1134.5 309.7 L1136.5 309.3 L1138.5 308.9 L1140.5 308.5 L1142.5 308.1 L1144.5 307.7 L1146.5 307.3 L1148.5 306.9 L1150.5 306.6 L1152.5 306.2 L1154.5 305.8 L1156.5 305.4 L1158.5 305.0 L1160.5 304.6 L1162.5 304.3 L1164.5 303.9 L1166.5 303.5 L1168.5 303.1 L1170.5 302.7 L1172.5 302.4 L1174.5 302.0 L1176.5 301.6 L1178.5 301.2 L1180.5 300.9 L1182.5 300.5 L1184.5 300.1 L1186.5 299.8 L1188.5 299.4 L1190.5 299.0 L1192.5 298.7 L1194.5 298.3 L1196.5 298.0 L1198.5 297.6 L1200.5 297.3 L1202.5 297.0 L1204.5 296.6 L1206.5 296.3 L1208.5 296.0 L1210.5 295.6 L1212.5 295.3 L1214.5 295.0 L1216.5 294.7 L1218.5 294.4 L1220.5 294.1 L1222.5 293.8 L1224.5 293.5 L1226.5 293.2 L1228.5 292.9 L1230.5 292.6 L1232.5 292.3 L1234.5 292.0 L1236.5 291.8 L1238.5 291.5 L1240.5 291.2 L1242.5 291.0 L1244.5 290.7 L1246.5 290.5 L1248.5 290.2 L1250.5 290.0 L1252.5 289.7 L1254.5 289.5 L1256.5 289.3 L1258.5 289.0 L1260.5 288.8 L1262.5 288.6 L1264.5 288.4 L1266.5 288.1 L1268.5 287.9 L1270.5 287.7 L1272.5 287.5 L1274.5 287.3 L1276.5 287.1 L1278.5 286.9 L1280.5 286.7 L1282.5 286.5 L1284.5 286.3 L1286.5 286.1 L1288.5 285.9 L1290.5 285.7 L1292.5 285.5 L1294.5 285.3 L1296.5 285.1 L1298.5 284.9 L1300.5 284.7 L1302.5 284.5 L1304.5 284.4 L1306.5 284.2 L1308.5 284.0 L1310.5 283.8 L1312.5 283.6 L1314.5 283.4 L1316.5 283.3 L1318.5 283.1 L1320.5 282.9 L1322.5 282.7 L1324.5 282.5 L1326.5 282.4 L1328.5 282.2 L1330.5 282.0 L1332.5 281.8 L1334.5 281.6 L1336.5 281.5 L1338.5 281.3 L1340.5 281.1 L1342.5 280.9 L1344.5 280.7 L1346.5 280.6 L1348.5 280.4 L1350.5 280.2 L1352.5 280.0 L1354.5 279.9 L1356.5 279.7 L1358.5 279.5 L1360.5 279.3 L1362.5 279.1 L1364.5 279.0 L1366.5 278.8 L1368.5 278.6 L1370.5 278.4 L1372.5 278.3 L1374.5 278.1 L1376.5 277.9 L1378.5 277.7 L1380.5 277.5 L1382.5 277.4 L1384.5 277.2 L1386.5 277.0 L1388.5 276.8 L1390.5 276.7 L1392.5 276.5 L1394.5 276.3 L1396.5 276.1 L1398.5 275.9 L1400.5 275.8 L1402.5 275.6 L1404.5 275.4 L1406.5 275.2 L1408.5 275.0 L1410.5 274.9 L1412.5 274.7 L1414.5 274.5 L1416.5 274.3 L1418.5 274.1 L1420.5 274.0 L1422.5 273.8 L1424.5 273.6 L1426.5 273.4 L1428.5 273.2 L1430.5 273.1 L1432.5 272.9 L1434.5 272.7 L1436.5 272.5 L1438.5 272.3 L1440.5 272.1 L1442.5 271.9 L1444.5 271.8 L1446.5 271.6 L1448.5 271.4 L1450.5 271.2 L1452.5 271.0 L1454.5 270.8 L1456.5 270.6 L1458.5 270.4 L1460.5 270.2 L1462.5 270.0 L1464.5 269.8 L1466.5 269.6 L1468.5 269.4 L1470.5 269.2 L1472.5 269.0 L1474.5 268.8 L1476.5 268.6 L1478.5 268.4 L1480.5 268.2 L1482.5 268.0 L1484.5 267.8 L1486.5 267.5 L1488.5 267.3 L1490.5 267.1 L1492.5 266.9 L1494.5 266.7 L1496.5 266.4 L1498.5 266.2 L1500.5 266.0 L1502.5 265.8 L1504.5 265.5 L1506.5 265.3 L1508.5 265.0 L1510.5 264.8 L1512.5 264.6 L1514.5 264.3 L1516.5 264.1 L1518.5 263.8 L1520.5 263.6 L1522.5 263.3 L1524.5 263.1 L1526.5 262.8 L1528.5 262.6 L1530.5 262.3 L1532.5 262.0 L1534.5 261.8 L1536.5 261.5 L1538.5 261.3 L1540.5 261.0 L1542.5 260.7 L1544.5 260.5 L1546.5 260.2 L1548.5 260.0 L1550.5 259.7 L1552.5 259.4 L1554.5 259.2 L1556.5 258.9 L1558.5 258.7 L1560.5 258.4 L1562.5 258.2 L1564.5 257.9 L1566.5 257.6 L1568.5 257.4 L1570.5 257.1 L1572.5 256.9 L1574.5 256.6 L1576.5 256.4 L1578.5 256.2 L1580.5 255.9 L1582.5 255.7 L1584.5 255.4 L1586.5 255.2 L1588.5 255.0 L1590.5 254.7 L1592.5 254.5 L1594.5 254.3 L1596.5 254.1 L1598.5 253.9 L1600.5 253.7 L1602.5 253.4 L1604.5 253.2 L1606.5 253.0 L1608.5 252.8 L1610.5 252.6 L1612.5 252.5 L1614.5 252.3 L1616.5 252.1 L1618.5 251.9 L1620.5 251.7 L1622.5 251.6 L1624.5 251.4 L1626.5 251.2 L1628.5 251.1 L1630.5 250.9 L1632.5 250.7 L1634.5 250.6 L1636.5 250.4 L1638.5 250.3 L1640.5 250.1 L1642.5 250.0 L1644.5 249.8 L1646.5 249.7 L1648.5 249.6 L1650.5 249.4 L1652.5 249.3 L1654.5 249.1 L1656.5 249.0 L1658.5 248.9 L1660.5 248.7 L1662.5 248.6 L1664.5 248.5 L1666.5 248.4 L1668.5 248.2 L1670.5 248.1 L1672.5 248.0 L1674.5 247.8 L1676.5 247.7 L1678.5 247.6 L1680.5 247.5 L1682.5 247.3 L1684.5 247.2 L1686.5 247.1 L1688.5 246.9 L1690.5 246.8 L1692.5 246.7 L1694.5 246.6 L1696.5 246.4 L1698.5 246.3 L1700.5 246.2 L1702.5 246.0 L1704.5 245.9 L1706.5 245.8 L1708.5 245.6 L1710.5 245.5 L1712.5 245.4 L1714.5 245.2 L1716.5 245.1 L1718.5 244.9 L1720.5 244.8 L1722.5 244.7 L1724.5 244.5 L1726.5 244.4 L1728.5 244.2 L1730.5 244.1 L1732.5 244.0 L1734.5 243.8 L1736.5 243.7 L1738.5 243.5 L1740.5 243.4 L1742.5 243.2 L1744.5 243.1 L1746.5 243.0 L1748.5 242.8 L1750.5 242.7 L1752.5 242.5 L1754.5 242.4 L1756.5 242.2 L1758.5 242.1 L1760.5 242.0 L1762.5 241.8 L1764.5 241.7 L1766.5 241.5 L1768.5 241.4 L1770.5 241.3 L1772.5 241.1 L1774.5 241.0 L1776.5 240.8 L1778.5 240.7 L1780.5 240.6 L1782.5 240.4 L1784.5 240.3 L1786.5 240.2 L1788.5 240.0 L1790.5 239.9 L1792.5 239.8 L1794.5 239.6 L1796.5 239.5 L1798.5 239.4 L1800.5 239.3 L1802.5 239.1 L1804.5 239.0 L1806.5 238.9 L1808.5 238.8 L1810.5 238.7 L1812.5 238.5 L1814.5 238.4 L1816.5 238.3 L1818.5 238.2 L1820.5 238.1 L1822.5 238.0 L1824.5 237.8 L1826.5 237.7 L1828.5 237.6 L1830.5 237.5 L1832.5 237.4 L1834.5 237.3 L1836.5 237.2 L1838.5 237.1 L1840.5 237.0 L1842.5 236.9 L1844.5 236.8 L1846.5 236.7 L1848.5 236.6 L1850.5 236.5 L1852.5 236.4 L1854.5 236.3 L1856.5 236.2 L1858.5 236.1 L1860.5 236.0 L1862.5 235.9 L1864.5 235.8 L1866.5 235.7 L1868.5 235.6 L1870.5 235.5 L1872.5 235.4 L1874.5 235.3 L1876.5 235.2 L1878.5 235.1 L1880.5 235.0 L1882.5 234.9 L1884.5 234.9 L1886.5 234.8 L1888.5 234.7 L1890.5 234.6 L1892.5 234.5 L1894.5 234.4 L1896.5 234.3 L1898.5 234.3 L1900.5 234.2 L1902.5 234.1 L1904.5 234.0 L1906.5 233.9 L1908.5 233.8 L1910.5 233.8 L1912.5 233.7 L1914.5 233.6 L1916.5 233.5 L1918.5 233.4 L1920.5 233.4 L1922.5 233.3 L1924.5 233.2 L1926.5 233.1 L1928.5 233.0 L1930.5 233.0 L1932.5 232.9 L1934.5 232.8 L1936.5 232.7 L1938.5 232.6 L1940.5 232.6 L1942.5 232.5 L1944.5 232.4 L1946.5 232.3 L1948.5 232.3 L1950.5 232.2 L1952.5 232.1 L1954.5 232.0 L1956.5 232.0 L1958.5 231.9 L1960.5 231.8 L1962.5 231.7 L1964.5 231.7 L1966.5 231.6 L1968.5 231.5 L1970.5 231.5 L1972.5 231.4 L1974.5 231.3 L1976.5 231.2 L1978.5 231.2 L1980.5 231.1 L1982.5 231.0 L1984.5 230.9 L1986.5 230.9 L1988.5 230.8 L1990.5 230.7 L1992.5 230.6 L1994.5 230.6 L1996.5 230.5" stroke="#00ffff" stroke-width="17.4"/>
<path d="M260.5 1477.1 L262.5 1473.5 L264.5 1469.9 L266.5 1466.3 L268.5 1462.7 L270.5 1459.1 L272.5 1455.5 L274.5 1451.9 L276.5 1448.3 L278.5 1444.7 L280.5 1441.1 L282.5 1437.5 L284.5 1433.9 L286.5 1430.3 L288.5 1426.7 L290.5 1423.1 L292.5 1419.5 L294.5 1415.9 L296.5 1412.3 L298.5 1408.7 L300.5 1405.1 L302.5 1401.5 L304.5 1398.0 L306.5 1394.4 L308.5 1390.8 L310.5 1387.2 L312.5 1383.7 L314.5 1380.1 L316.5 1376.5 L318.5 1373.0 L320.5 1369.4 L322.5 1365.8 L324.5 1362.3 L326.5 1358.8 L328.5 1355.2 L330.5 1351.7 L332.5 1348.1 L334.5 1344.6 L336.5 1341.1 L338.5 1337.6 L340.5 1334.1 L342.5 1330.6 L344.5 1327.1 L346.5 1323.6 L348.5 1320.1 L350.5 1316.6 L352.5 1313.1 L354.5 1309.7 L356.5 1306.2 L358.5 1302.7 L360.5 1299.3 L362.5 1295.9 L364.5 1292.4 L366.5 1289.0 L368.5 1285.6 L370.5 1282.2 L372.5 1278.8 L374.5 1275.4 L376.5 1272.0 L378.5 1268.6 L380.5 1265.2 L382.5 1261.9 L384.5 1258.5 L386.5 1255.2 L388.5 1251.8 L390.5 1248.5 L392.5 1245.2 L394.5 1241.9 L396.5 1238.6 L398.5 1235.3 L400.5 1232.0 L402.5 1228.7 L404.5 1225.4 L406.5 1222.1 L408.5 1218.9 L410.5 1215.6 L412.5 1212.4 L414.5 1209.1 L416.5 1205.9 L418.5 1202.7 L420.5 1199.4 L422.5 1196.2 L424.5 1193.0 L426.5 1189.8 L428.5 1186.6 L430.5 1183.5 L432.5 1180.3 L434.5 1177.1 L436.5 1173.9 L438.5 1170.8 L440.5 1167.7 L442.5 1164.5 L444.5 1161.4 L446.5 1158.3 L448.5 1155.1 L450.5 1152.0 L452.5 1148.9 L454.5 1145.8 L456.5 1142.7 L458.5 1139.7 L460.5 1136.6 L462.5 1133.5 L464.5 1130.5 L466.5 1127.4 L468.5 1124.4 L470.5 1121.3 L472.5 1118.3 L474.5 1115.3 L476.5 1112.2 L478.5 1109.2 L480.5 1106.2 L482.5 1103.2 L484.5 1100.2 L486.5 1097.3 L488.5 1094.3 L490.5 1091.3 L492.5 1088.3 L494.5 1085.4 L496.5 1082.4 L498.5 1079.5 L500.5 1076.5 L502.5 1073.6 L504.5 1070.7 L506.5 1067.8 L508.5 1064.8 L510.5 1061.9 L512.5 1059.0 L514.5 1056.1 L516.5 1053.2 L518.5 1050.3 L520.5 1047.5 L522.5 1044.6 L524.5 1041.7 L526.5 1038.9 L528.5 1036.0 L530.5 1033.2 L532.5 1030.3 L534.5 1027.5 L536.5 1024.6 L538.5 1021.8 L540.5 1019.0 L542.5 1016.2 L544.5 1013.4 L546.5 1010.6 L548.5 1007.8 L550.5 1005.0 L552.5 1002.2 L554.5 999.4 L556.5 996.6 L558.5 993.8 L560.5 991.0 L562.5 988.3 L564.5 985.5 L566.5 982.8 L568.5 980.0 L570.5 977.3 L572.5 974.5 L574.5 971.8 L576.5 969.1 L578.5 966.4 L580.5 963.6 L582.5 960.9 L584.5 958.2 L586.5 955.5 L588.5 952.8 L590.5 950.1 L592.5 947.5 L594.5 944.8 L596.5 942.1 L598.5 939.5 L600.5 936.8 L602.5 934.1 L604.5 931.5 L606.5 928.9 L608.5 926.2 L610.5 923.6 L612.5 921.0 L614.5 918.4 L616.5 915.8 L618.5 913.2 L620.5 910.6 L622.5 908.0 L624.5 905.4 L626.5 902.9 L628.5 900.3 L630.5 897.8 L632.5 895.2 L634.5 892.7 L636.5 890.1 L638.5 887.6 L640.5 885.1 L642.5 882.6 L644.5 880.1 L646.5 877.6 L648.5 875.1 L650.5 872.6 L652.5 870.1 L654.5 867.7 L656.5 865.2 L658.5 862.8 L660.5 860.3 L662.5 857.9 L664.5 855.5 L666.5 853.0 L668.5 850.6 L670.5 848.2 L672.5 845.8 L674.5 843.4 L676.5 841.0 L678.5 838.6 L680.5 836.2 L682.5 833.8 L684.5 831.4 L686.5 829.0 L688.5 826.7 L690.5 824.3 L692.5 821.9 L694.5 819.5 L696.5 817.1 L698.5 814.8 L700.5 812.4 L702.5 810.0 L704.5 807.6 L706.5 805.2 L708.5 802.8 L710.5 800.4 L712.5 798.1 L714.5 795.7 L716.5 793.3 L718.5 790.9 L720.5 788.5 L722.5 786.0 L724.5 783.6 L726.5 781.2 L728.5 778.8 L730.5 776.3 L732.5 773.9 L734.5 771.5 L736.5 769.0 L738.5 766.5 L740.5 764.1 L742.5 761.6 L744.5 759.1 L746.5 756.6 L748.5 754.1 L750.5 751.6 L752.5 749.1 L754.5 746.5 L756.5 744.0 L758.5 741.5 L760.5 738.9 L762.5 736.4 L764.5 733.8 L766.5 731.2 L768.5 728.7 L770.5 726.1 L772.5 723.5 L774.5 720.9 L776.5 718.4 L778.5 715.8 L780.5 713.2 L782.5 710.6 L784.5 708.1 L786.5 705.5 L788.5 702.9 L790.5 700.4 L792.5 697.8 L794.5 695.3 L796.5 692.7 L798.5 690.2 L800.5 687.7 L802.5 685.1 L804.5 682.6 L806.5 680.1 L808.5 677.6 L810.5 675.2 L812.5 672.7 L814.5 670.2 L816.5 667.8 L818.5 665.4 L820.5 663.0 L822.5 660.6 L824.5 658.2 L826.5 655.8 L828.5 653.5 L830.5 651.2 L832.5 648.8 L834.5 646.6 L836.5 644.3 L838.5 642.0 L840.5 639.8 L842.5 637.6 L844.5 635.4 L846.5 633.3 L848.5 631.1 L850.5 629.0 L852.5 626.9 L854.5 624.9 L856.5 622.8 L858.5 620.8 L860.5 618.8 L862.5 616.8 L864.5 614.9 L866.5 612.9 L868.5 611.0 L870.5 609.1 L872.5 607.2 L874.5 605.3 L876.5 603.5 L878.5 601.6 L880.5 599.8 L882.5 598.0 L884.5 596.2 L886.5 594.4 L888.5 592.7 L890.5 590.9 L892.5 589.2 L894.5 587.5 L896.5 585.8 L898.5 584.1 L900.5 582.4 L902.5 580.7 L904.5 579.1 L906.5 577.4 L908.5 575.8 L910.5 574.1 L912.5 572.5 L914.5 570.9 L916.5 569.3 L918.5 567.7 L920.5 566.1 L922.5 564.5 L924.5 563.0 L926.5 561.4 L928.5 559.9 L930.5 558.3 L932.5 556.8 L934.5 555.2 L936.5 553.7 L938.5 552.1 L940.5 550.6 L942.5 549.1 L944.5 547.6 L946.5 546.1 L948.5 544.5 L950.5 543.0 L952.5 541.5 L954.5 540.0 L956.5 538.5 L958.5 537.0 L960.5 535.6 L962.5 534.1 L964.5 532.6 L966.5 531.1 L968.5 529.7 L970.5 528.2 L972.5 526.7 L974.5 525.3 L976.5 523.8 L978.5 522.4 L980.5 521.0 L982.5 519.5 L984.5 518.1 L986.5 516.7 L988.5 515.3 L990.5 513.9 L992.5 512.5 L994.5 511.1 L996.5 509.7 L998.5 508.4 L1000.5 507.0 L1002.5 505.6 L1004.5 504.3 L1006.5 502.9 L1008.5 501.6 L1010.5 500.3 L1012.5 498.9 L1014.5 497.6 L1016.5 496.3 L1018.5 495.0 L1020.5 493.7 L1022.5 492.4 L1024.5 491.2 L1026.5 489.9 L1028.5 488.6 L1030.5 487.4 L1032.5 486.1 L1034.5 484.9 L1036.5 483.7 L1038.5 482.5 L1040.5 481.3 L1042.5 480.1 L1044.5 478.9 L1046.5 477.7 L1048.5 476.5 L1050.5 475.3 L1052.5 474.2 L1054.5 473.0 L1056.5 471.9 L1058.5 470.8 L1060.5 469.6 L1062.5 468.5 L1064.5 467.4 L1066.5 466.3 L1068.5 465.2 L1070.5 464.1 L1072.5 463.0 L1074.5 461.9 L1076.5 460.8 L1078.5 459.8 L1080.5 458.7 L1082.5 457.6 L1084.5 456.6 L1086.5 455.5 L1088.5 454.5 L1090.5 453.4 L1092.5 452.4 L1094.5 451.4 L1096.5 450.3 L1098.5 449.3 L1100.5 448.3 L1102.5 447.3 L1104.5 446.3 L1106.5 445.3 L1108.5 444.3 L1110.5 443.3 L1112.5 442.3 L1114.5 441.3 L1116.5 440.3 L1118.5 439.3 L1120.5 438.3 L1122.5 437.3 L1124.5 436.3 L1126.5 435.3 L1128.5 434.4 L1130.5 433.4 L1132.5 432.4 L1134.5 431.4 L1136.5 430.5 L1138.5 429.5 L1140.5 428.5 L1142.5 427.6 L1144.5 426.6 L1146.5 425.7 L1148.5 424.7 L1150.5 423.8 L1152.5 422.8 L1154.5 421.9 L1156.5 421.0 L1158.5 420.0 L1160.5 419.1 L1162.5 418.2 L1164.5 417.3 L1166.5 416.4 L1168.5 415.5 L1170.5 414.6 L1172.5 413.7 L1174.5 412.9 L1176.5 412.0 L1178.5 411.2 L1180.5 410.3 L1182.5 409.5 L1184.5 408.6 L1186.5 407.8 L1188.5 407.0 L1190.5 406.2 L1192.5 405.4 L1194.5 404.6 L1196.5 403.9 L1198.5 403.1 L1200.5 402.4 L1202.5 401.6 L1204.5 400.9 L1206.5 400.2 L1208.5 399.5 L1210.5 398.8 L1212.5 398.2 L1214.5 397.5 L1216.5 396.9 L1218.5 396.2 L1220.5 395.6 L1222.5 395.0 L1224.5 394.4 L1226.5 393.8 L1228.5 393.3 L1230.5 392.7 L1232.5 392.2 L1234.5 391.7 L1236.5 391.2 L1238.5 390.7 L1240.5 390.2 L1242.5 389.7 L1244.5 389.2 L1246.5 388.8 L1248.5 388.3 L1250.5 387.9 L1252.5 387.5 L1254.5 387.0 L1256.5 386.6 L1258.5 386.2 L1260.5 385.8 L1262.5 385.4 L1264.5 385.0 L1266.5 384.6 L1268.5 384.2 L1270.5 383.8 L1272.5 383.4 L1274.5 383.0 L1276.5 382.6 L1278.5 382.3 L1280.5 381.9 L1282.5 381.5 L1284.5 381.1 L1286.5 380.7 L1288.5 380.3 L1290.5 379.9 L1292.5 379.5 L1294.5 379.1 L1296.5 378.7 L1298.5 378.3 L1300.5 377.9 L1302.5 377.4 L1304.5 377.0 L1306.5 376.6 L1308.5 376.1 L1310.5 375.7 L1312.5 375.2 L1314.5 374.7 L1316.5 374.2 L1318.5 373.7 L1320.5 373.2 L1322.5 372.7 L1324.5 372.2 L1326.5 371.6 L1328.5 371.1 L1330.5 370.5 L1332.5 369.9 L1334.5 369.4 L1336.5 368.8 L1338.5 368.2 L1340.5 367.6 L1342.5 367.0 L1344.5 366.4 L1346.5 365.7 L1348.5 365.1 L1350.5 364.5 L1352.5 363.9 L1354.5 363.2 L1356.5 362.6 L1358.5 362.0 L1360.5 361.3 L1362.5 360.7 L1364.5 360.0 L1366.5 359.4 L1368.5 358.7 L1370.5 358.1 L1372.5 357.5 L1374.5 356.8 L1376.5 356.2 L1378.5 355.6 L1380.5 354.9 L1382.5 354.3 L1384.5 353.7 L1386.5 353.1 L1388.5 352.5 L1390.5 351.9 L1392.5 351.3 L1394.5 350.7 L1396.5 350.1 L1398.5 349.5 L1400.5 349.0 L1402.5 348.4 L1404.5 347.9 L1406.5 347.3 L1408.5 346.8 L1410.5 346.3 L1412.5 345.8 L1414.5 345.3 L1416.5 344.8 L1418.5 344.4 L1420.5 343.9 L1422.5 343.5 L1424.5 343.0 L1426.5 342.6 L1428.5 342.2 L1430.5 341.8 L1432.5 341.4 L1434.5 341.0 L1436.5 340.7 L1438.5 340.3 L1440.5 340.0 L1442.5 339.6 L1444.5 339.3 L1446.5 338.9 L1448.5 338.6 L1450.5 338.3 L1452.5 337.9 L1454.5 337.6 L1456.5 337.3 L1458.5 337.0 L1460.5 336.7 L1462.5 336.4 L1464.5 336.1 L1466.5 335.8 L1468.5 335.5 L1470.5 335.2 L1472.5 334.9 L1474.5 334.6 L1476.5 334.3 L1478.5 334.0 L1480.5 333.7 L1482.5 333.4 L1484.5 333.1 L1486.5 332.8 L1488.5 332.5 L1490.5 332.2 L1492.5 331.9 L1494.5 331.6 L1496.5 331.3 L1498.5 330.9 L1500.5 330.6 L1502.5 330.3 L1504.5 329.9 L1506.5 329.6 L1508.5 329.2 L1510.5 328.9 L1512.5 328.5 L1514.5 328.1 L1516.5 327.7 L1518.5 327.3 L1520.5 326.9 L1522.5 326.5 L1524.5 326.1 L1526.5 325.7 L1528.5 325.2 L1530.5 324.8 L1532.5 324.4 L1534.5 323.9 L1536.5 323.5 L1538.5 323.0 L1540.5 322.6 L1542.5 322.1 L1544.5 321.7 L1546.5 321.2 L1548.5 320.7 L1550.5 320.3 L1552.5 319.8 L1554.5 319.3 L1556.5 318.8 L1558.5 318.4 L1560.5 317.9 L1562.5 317.4 L1564.5 316.9 L1566.5 316.4 L1568.5 316.0 L1570.5 315.5 L1572.5 315.0 L1574.5 314.5 L1576.5 314.0 L1578.5 313.5 L1580.5 313.1 L1582.5 312.6 L1584.5 312.1 L1586.5 311.6 L1588.5 311.2 L1590.5 310.7 L1592.5 310.2 L1594.5 309.8 L1596.5 309.3 L1598.5 308.8 L1600.5 308.4 L1602.5 307.9 L1604.5 307.5 L1606.5 307.0 L1608.5 306.6 L1610.5 306.2 L1612.5 305.7 L1614.5 305.3 L1616.5 304.9 L1618.5 304.5 L1620.5 304.1 L1622.5 303.7 L1624.5 303.3 L1626.5 302.9 L1628.5 302.5 L1630.5 302.1 L1632.5 301.7 L1634.5 301.3 L1636.5 300.9 L1638.5 300.5 L1640.5 300.2 L1642.5 299.8 L1644.5 299.4 L1646.5 299.0 L1648.5 298.7 L1650.5 298.3 L1652.5 298.0 L1654.5 297.6 L1656.5 297.2 L1658.5 296.9 L1660.5 296.5 L1662.5 296.2 L1664.5 295.8 L1666.5 295.5 L1668.5 295.1 L1670.5 294.8 L1672.5 294.4 L1674.5 294.1 L1676.5 293.7 L1678.5 293.4 L1680.5 293.0 L1682.5 292.7 L1684.5 292.4 L1686.5 292.0 L1688.5 291.7 L1690.5 291.3 L1692.5 291.0 L1694.5 290.7 L1696.5 290.3 L1698.5 290.0 L1700.5 289.6 L1702.5 289.3 L1704.5 288.9 L1706.5 288.6 L1708.5 288.2 L1710.5 287.9 L1712.5 287.6 L1714.5 287.2 L1716.5 286.9 L1718.5 286.5 L1720.5 286.2 L1722.5 285.8 L1724.5 285.5 L1726.5 285.1 L1728.5 284.8 L1730.5 284.4 L1732.5 284.1 L1734.5 283.7 L1736.5 283.4 L1738.5 283.1 L1740.5 282.7 L1742.5 282.4 L1744.5 282.0 L1746.5 281.7 L1748.5 281.3 L1750.5 281.0 L1752.5 280.6 L1754.5 280.3 L1756.5 280.0 L1758.5 279.6 L1760.5 279.3 L1762.5 278.9 L1764.5 278.6 L1766.5 278.3 L1768.5 277.9 L1770.5 277.6 L1772.5 277.2 L1774.5 276.9 L1776.5 276.6 L1778.5 276.2 L1780.5 275.9 L1782.5 275.6 L1784.5 275.2 L1786.5 274.9 L1788.5 274.6 L1790.5 274.3 L1792.5 273.9 L1794.5 273.6 L1796.5 273.3 L1798.5 273.0 L1800.5 272.7 L1802.5 272.3 L1804.5 272.0 L1806.5 271.7 L1808.5 271.4 L1810.5 271.1 L1812.5 270.8 L1814.5 270.5 L1816.5 270.1 L1818.5 269.8 L1820.5 269.5 L1822.5 269.2 L1824.5 268.9 L1826.5 268.6 L1828.5 268.3 L1830.5 268.0 L1832.5 267.7 L1834.5 267.4 L1836.5 267.1 L1838.5 266.8 L1840.5 266.5 L1842.5 266.2 L1844.5 265.9 L1846.5 265.6 L1848.5 265.3 L1850.5 265.0 L1852.5 264.8 L1854.5 264.5 L1856.5 264.2 L1858.5 263.9 L1860.5 263.6 L1862.5 263.3 L1864.5 263.0 L1866.5 262.7 L1868.5 262.5 L1870.5 262.2 L1872.5 261.9 L1874.5 261.6 L1876.5 261.3 L1878.5 261.1 L1880.5 260.8 L1882.5 260.5 L1884.5 260.2 L1886.5 259.9 L1888.5 259.7 L1890.5 259.4 L1892.5 259.1 L1894.5 258.8 L1896.5 258.6 L1898.5 258.3 L1900.5 258.0 L1902.5 257.7 L1904.5 257.5 L1906.5 257.2 L1908.5 256.9 L1910.5 256.7 L1912.5 256.4 L1914.5 256.1 L1916.5 255.8 L1918.5 255.6 L1920.5 255.3 L1922.5 255.0 L1924.5 254.8 L1926.5 254.5 L1928.5 254.2 L1930.5 254.0 L1932.5 253.7 L1934.5 253.4 L1936.5 253.2 L1938.5 252.9 L1940.5 252.6 L1942.5 252.4 L1944.5 252.1 L1946.5 251.8 L1948.5 251.6 L1950.5 251.3 L1952.5 251.0 L1954.5 250.8 L1956.5 250.5 L1958.5 250.3 L1960.5 250.0 L1962.5 249.7 L1964.5 249.5 L1966.5 249.2 L1968.5 248.9 L1970.5 248.7 L1972.5 248.4 L1974.5 248.2 L1976.5 247.9 L1978.5 247.6 L1980.5 247.4 L1982.5 247.1 L1984.5 246.8 L1986.5 246.6 L1988.5 246.3 L1990.5 246.1 L1992.5 245.8 L1994.5 245.5 L1996.5 245.3" stroke="#ff00ff" stroke-width="17.4"/>
</g></g>
<rect x="276" y="1430" width="1708" height="3" fill="#000" opacity="0.25" shape-rendering="crispEdges"/>
<g class="soft">
<text class="tk" y="1454.3" xml:space="preserve"><tspan x="169.3" y="1454.3" textLength="30.1" lengthAdjust="spacingAndGlyphs">0</tspan><tspan x="191.8" y="1454.3">.</tspan><tspan x="227.9" y="1454.3" textLength="30.1" lengthAdjust="spacingAndGlyphs">0</tspan></text>
<text class="tk" y="1178.3" xml:space="preserve"><tspan x="169.3" y="1178.3" textLength="30.1" lengthAdjust="spacingAndGlyphs">0</tspan><tspan x="191.8" y="1178.3">.</tspan><tspan x="227.9" y="1178.3" textLength="30.1" lengthAdjust="spacingAndGlyphs">2</tspan></text>
<text class="tk" y="902.3" xml:space="preserve"><tspan x="169.3" y="902.3" textLength="30.1" lengthAdjust="spacingAndGlyphs">0</tspan><tspan x="191.8" y="902.3">.</tspan><tspan x="227.9" y="902.3" textLength="30.1" lengthAdjust="spacingAndGlyphs">4</tspan></text>
<text class="tk" y="626.3" xml:space="preserve"><tspan x="169.3" y="626.3" textLength="30.1" lengthAdjust="spacingAndGlyphs">0</tspan><tspan x="191.8" y="626.3">.</tspan><tspan x="227.9" y="626.3" textLength="30.1" lengthAdjust="spacingAndGlyphs">6</tspan></text>
<text class="tk" y="350.3" xml:space="preserve"><tspan x="169.3" y="350.3" textLength="30.1" lengthAdjust="spacingAndGlyphs">0</tspan><tspan x="191.8" y="350.3">.</tspan><tspan x="227.9" y="350.3" textLength="30.1" lengthAdjust="spacingAndGlyphs">8</tspan></text>
<text class="tk" y="74.3" xml:space="preserve"><tspan x="169.3" y="74.3">1</tspan><tspan x="191.8" y="74.3">.</tspan><tspan x="227.9" y="74.3" textLength="30.1" lengthAdjust="spacingAndGlyphs">0</tspan></text>
<text class="tk" y="1511.0" xml:space="preserve"><tspan x="272.4" y="1511.0" textLength="30.1" lengthAdjust="spacingAndGlyphs">2</tspan></text>
<text class="tk" y="1511.0" xml:space="preserve"><tspan x="462.8" y="1511.0" textLength="30.1" lengthAdjust="spacingAndGlyphs">4</tspan></text>
<text class="tk" y="1511.0" xml:space="preserve"><tspan x="653.2" y="1511.0" textLength="30.1" lengthAdjust="spacingAndGlyphs">6</tspan></text>
<text class="tk" y="1511.0" xml:space="preserve"><tspan x="843.6" y="1511.0" textLength="30.1" lengthAdjust="spacingAndGlyphs">8</tspan></text>
<text class="tk" y="1511.0" xml:space="preserve"><tspan x="1019.4" y="1511.0">1</tspan><tspan x="1048.7" y="1511.0" textLength="30.1" lengthAdjust="spacingAndGlyphs">0</tspan></text>
<text class="tk" y="1511.0" xml:space="preserve"><tspan x="1209.8" y="1511.0">1</tspan><tspan x="1239.0" y="1511.0" textLength="30.1" lengthAdjust="spacingAndGlyphs">2</tspan></text>
<text class="tk" y="1511.0" xml:space="preserve"><tspan x="1400.2" y="1511.0">1</tspan><tspan x="1429.5" y="1511.0" textLength="30.1" lengthAdjust="spacingAndGlyphs">4</tspan></text>
<text class="tk" y="1511.0" xml:space="preserve"><tspan x="1590.5" y="1511.0">1</tspan><tspan x="1619.8" y="1511.0" textLength="30.1" lengthAdjust="spacingAndGlyphs">6</tspan></text>
<text class="tk" y="1511.0" xml:space="preserve"><tspan x="1780.9" y="1511.0">1</tspan><tspan x="1810.2" y="1511.0" textLength="30.1" lengthAdjust="spacingAndGlyphs">8</tspan></text>
<text class="tk" y="1511.0" xml:space="preserve"><tspan x="1971.3" y="1511.0" textLength="30.1" lengthAdjust="spacingAndGlyphs">2</tspan><tspan x="2000.6" y="1511.0" textLength="30.1" lengthAdjust="spacingAndGlyphs">0</tspan></text>
<line x1="297.7" y1="107.6" x2="431.2" y2="107.6" stroke="#00ff00" stroke-width="18" stroke-linecap="round"/>
<text class="lg" y="129.9" xml:space="preserve"><tspan x="480.9" y="129.9" textLength="31.1" lengthAdjust="spacingAndGlyphs">3</tspan><tspan x="514.6" y="129.9" textLength="31.1" lengthAdjust="spacingAndGlyphs">0</tspan><tspan x="548.3" y="129.9" textLength="33.8" lengthAdjust="spacingAndGlyphs">n</tspan><tspan x="582.0" y="129.9" textLength="35.2" lengthAdjust="spacingAndGlyphs">m</tspan></text>
<line x1="297.7" y1="180.8" x2="431.2" y2="180.8" stroke="#0000ff" stroke-width="18" stroke-linecap="round"/>
<text class="lg" y="203.1" xml:space="preserve"><tspan x="480.9" y="203.1" textLength="31.1" lengthAdjust="spacingAndGlyphs">6</tspan><tspan x="514.6" y="203.1" textLength="31.1" lengthAdjust="spacingAndGlyphs">0</tspan><tspan x="548.3" y="203.1" textLength="33.8" lengthAdjust="spacingAndGlyphs">n</tspan><tspan x="582.0" y="203.1" textLength="35.2" lengthAdjust="spacingAndGlyphs">m</tspan></text>
<line x1="297.7" y1="254.0" x2="431.2" y2="254.0" stroke="#00ffff" stroke-width="18" stroke-linecap="round"/>
<text class="lg" y="276.3" xml:space="preserve"><tspan x="480.9" y="276.3" textLength="31.1" lengthAdjust="spacingAndGlyphs">9</tspan><tspan x="514.6" y="276.3" textLength="31.1" lengthAdjust="spacingAndGlyphs">0</tspan><tspan x="548.3" y="276.3" textLength="33.8" lengthAdjust="spacingAndGlyphs">n</tspan><tspan x="582.0" y="276.3" textLength="35.2" lengthAdjust="spacingAndGlyphs">m</tspan></text>
<line x1="297.7" y1="327.2" x2="431.2" y2="327.2" stroke="#ff00ff" stroke-width="18" stroke-linecap="round"/>
<text class="lg" y="349.5" xml:space="preserve"><tspan x="480.9" y="349.5">1</tspan><tspan x="514.6" y="349.5" textLength="31.1" lengthAdjust="spacingAndGlyphs">2</tspan><tspan x="548.3" y="349.5" textLength="31.1" lengthAdjust="spacingAndGlyphs">0</tspan><tspan x="582.0" y="349.5" textLength="33.8" lengthAdjust="spacingAndGlyphs">n</tspan><tspan x="615.7" y="349.5" textLength="35.2" lengthAdjust="spacingAndGlyphs">m</tspan></text>
<text class="ti" y="1606.0" xml:space="preserve"><tspan x="911.2" y="1606.0" textLength="37.4" lengthAdjust="spacingAndGlyphs">D</tspan><tspan x="947.4" y="1606.0" textLength="23.6" lengthAdjust="spacingAndGlyphs">i</tspan><tspan x="983.6" y="1606.0" textLength="31.1" lengthAdjust="spacingAndGlyphs">s</tspan><tspan x="1019.8" y="1606.0" textLength="25.7" lengthAdjust="spacingAndGlyphs">t</tspan><tspan x="1056.0" y="1606.0" textLength="36.1" lengthAdjust="spacingAndGlyphs">a</tspan><tspan x="1092.2" y="1606.0" textLength="36.3" lengthAdjust="spacingAndGlyphs">n</tspan><tspan x="1128.4" y="1606.0" textLength="34.5" lengthAdjust="spacingAndGlyphs">c</tspan><tspan x="1164.6" y="1606.0" textLength="35.5" lengthAdjust="spacingAndGlyphs">e</tspan><tspan x="1200.8"> </tspan><tspan x="1242.9" y="1597.9">(</tspan><tspan x="1273.2" y="1606.0" textLength="36.3" lengthAdjust="spacingAndGlyphs">n</tspan><tspan x="1309.4" y="1606.0" textLength="37.7" lengthAdjust="spacingAndGlyphs">m</tspan><tspan x="1338.9" y="1597.9">)</tspan></text>
<g transform="translate(80 689) rotate(-90)"><text class="ti" y="0.0" xml:space="preserve"><tspan x="-217.2" y="0.0" textLength="37.4" lengthAdjust="spacingAndGlyphs">Q</tspan><tspan x="-181.0" y="0.0" textLength="36.3" lengthAdjust="spacingAndGlyphs">u</tspan><tspan x="-144.8" y="0.0" textLength="36.1" lengthAdjust="spacingAndGlyphs">a</tspan><tspan x="-108.6" y="0.0" textLength="36.3" lengthAdjust="spacingAndGlyphs">n</tspan><tspan x="-72.4" y="0.0" textLength="25.7" lengthAdjust="spacingAndGlyphs">t</tspan><tspan x="-36.2" y="0.0" textLength="36.3" lengthAdjust="spacingAndGlyphs">u</tspan><tspan x="0.0" y="0.0" textLength="37.7" lengthAdjust="spacingAndGlyphs">m</tspan><tspan x="36.2"> </tspan><tspan x="72.4" y="0.0">y</tspan><tspan x="108.6" y="0.0" textLength="23.6" lengthAdjust="spacingAndGlyphs">i</tspan><tspan x="144.8" y="0.0" textLength="35.5" lengthAdjust="spacingAndGlyphs">e</tspan><tspan x="181.0" y="0.0" textLength="23.6" lengthAdjust="spacingAndGlyphs">l</tspan><tspan x="217.2" y="0.0">d</tspan></text></g>
</g>
</svg></body></html>
